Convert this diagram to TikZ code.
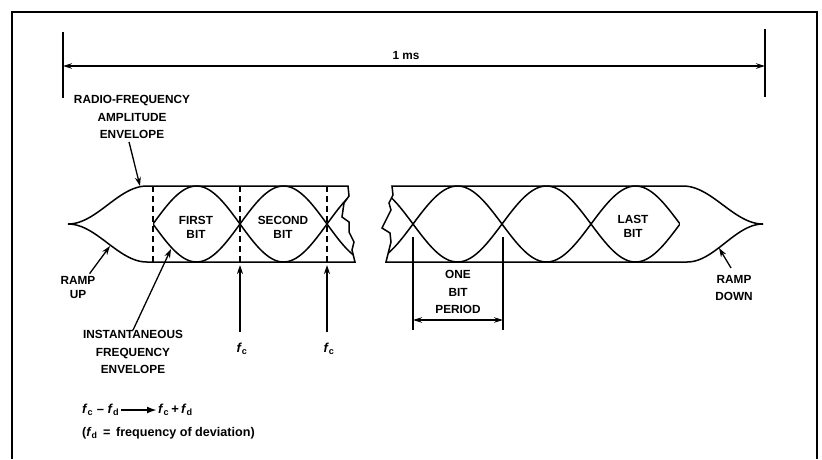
\documentclass[tikz,border=0pt]{standalone}
\usepackage{fontspec}
\setmainfont{Liberation Sans}
\usetikzlibrary{arrows.meta}
\begin{document}
\begin{tikzpicture}[x=1pt,y=-1pt,
  heavy/.style={line width=1.5pt},
  lbl/.style={font=\fontsize{11.8}{17.5}\selectfont\bfseries, align=center, inner sep=0pt},
  lbltight/.style={font=\fontsize{11.8}{14}\selectfont\bfseries, align=center, inner sep=0pt},
  fnt/.style={font=\fontsize{13}{15}\selectfont\bfseries, inner sep=0pt},
  tipend/.style={-{Stealth[length=9pt,width=6pt]}, line width=1.3pt},
  tipboth/.style={{Stealth[length=9pt,width=5.5pt]}-{Stealth[length=9pt,width=5.5pt]}, line width=1.5pt},
  dashln/.style={line width=1.3pt, dash pattern=on 6pt off 4pt},
  bigarrow/.style={-{Latex[length=10pt,width=7pt]}, line width=2.4pt}]
\useasboundingbox (0,0) rectangle (822,459);

% frame
\draw[line width=1.4pt] (12,459) -- (12,12) -- (817,12) -- (817,459);

% 1 ms dimension
\coordinate (dl) at (63,66);
\coordinate (dr) at (765,66);
\draw[heavy] (63,32) -- (63,98);
\draw[heavy] (765,29) -- (765,97);
\draw[tipboth] (dl) -- (dr);
\node[lbltight] (ms) at (406,55) {1 ms};

% ---------- left part of waveform ----------
% ramp up
\draw[heavy] plot[domain=68:147, samples=50, smooth] (\x, {224-19*(1-cos(2.2785*(\x-68)))});
\draw[heavy] plot[domain=68:147, samples=50, smooth] (\x, {224+19*(1-cos(2.2785*(\x-68)))});
% envelope lines and break
\draw[heavy] (147,186) -- (348,186) -- (349,196) -- (344,203) -- (342,217) -- (349,222)
  -- (349,232) -- (354,242) -- (352,250) -- (355,262) -- (147,262);
% sinusoids
\begin{scope}
  \clip (153,175) -- (348,175) -- (348,186) -- (349,196) -- (344,203) -- (342,217) -- (349,222)
  -- (349,232) -- (354,242) -- (352,250) -- (355,262) -- (355,270) -- (153,270) -- cycle;
  \draw[heavy] plot[domain=153:362, samples=80, smooth] (\x, {224-38*sin(2.06897*(\x-153))});
  \draw[heavy] plot[domain=153:362, samples=80, smooth] (\x, {224+38*sin(2.06897*(\x-153))});
\end{scope}
% dashed bit boundaries
\draw[dashln] (153,186) -- (153,262);
\draw[dashln] (240,186) -- (240,262);
\draw[dashln] (327,186) -- (327,262);

% ---------- right part of waveform ----------
\draw[heavy] (683,186) -- (392,186) -- (393,195) -- (389,203) -- (391,210) -- (382,228)
  -- (390,233) -- (391,242) -- (386,262) -- (687,262);
\begin{scope}
  \clip (392,175) -- (392,186) -- (393,195) -- (389,203) -- (391,210) -- (382,228)
  -- (390,233) -- (391,242) -- (386,262) -- (386,270) -- (680,270) -- (680,175) -- cycle;
  \draw[heavy] plot[domain=375:680, samples=110, smooth] (\x, {224-38*sin(2.02247*(\x-413))});
  \draw[heavy] plot[domain=375:680, samples=110, smooth] (\x, {224+38*sin(2.02247*(\x-413))});
\end{scope}
% ramp down
\draw[heavy] plot[domain=683:763, samples=50, smooth] (\x, {186+19*(1-cos(2.25*(\x-683)))});
\draw[heavy] plot[domain=687:763, samples=50, smooth] (\x, {262-19*(1-cos(2.36842*(\x-687)))});

% ---------- labels ----------
\node[lbl] (rf) at (132,117) {RADIO-FREQUENCY\\AMPLITUDE\\ENVELOPE};
\coordinate (rfpt) at (140,186);
\draw[tipend] ([xshift=-3pt,yshift=-3pt]rf.south) -- (rfpt);

\node[lbltight] (first) at (196,227) {FIRST\\BIT};
\node[lbltight] (second) at (283,227) {SECOND\\BIT};
\node[lbltight] (last) at (633,226) {LAST\\BIT};

\node[lbltight] (rampup) at (78,287) {RAMP\\UP};
\coordinate (rupt) at (110,246);
\draw[tipend] ([xshift=-6pt,yshift=2pt]rampup.north east) -- (rupt);

\node[lbl] (inst) at (133,352) {INSTANTANEOUS\\FREQUENCY\\ENVELOPE};
\coordinate (inpt) at (171,249);
\draw[tipend] (inst.north) -- (inpt);

% f_c markers
\node[fnt] (fc1) at (242,349) {\textit{f}\textsubscript{c}};
\node[fnt] (fc2) at (329,349) {\textit{f}\textsubscript{c}};
\coordinate (fcpt1) at (240,265);
\coordinate (fcpt2) at (327,265);
\draw[tipend] (240,332) -- (fcpt1);
\draw[tipend] (327,332) -- (fcpt2);

% one bit period
\coordinate (ob1) at (413,320);
\coordinate (ob2) at (503,320);
\draw[line width=1.2pt] (413,237) -- (413,330);
\draw[line width=1.2pt] (503,237) -- (503,330);
\draw[tipboth, line width=1.2pt] (ob1) -- (ob2);
\node[lbl] (onebit) at (458,292) {ONE\\BIT\\PERIOD};

% ramp down
\node[lbl] (rampdown) at (734,288) {RAMP\\DOWN};
\coordinate (rdpt) at (719,248);
\draw[tipend] ([xshift=-3pt,yshift=7pt]rampdown.north) -- (rdpt);

% formula
\node[fnt, anchor=west] (fm1) at (82,410) {\textit{f}\textsubscript{c}\;–\;\textit{f}\textsubscript{d}};
\node[fnt, anchor=west] (fm2) at (158,410) {\textit{f}\textsubscript{c}\,+\,\textit{f}\textsubscript{d}};
\draw[bigarrow] ([xshift=2pt]fm1.east) -- ([xshift=-1pt]fm2.west);
\node[fnt, anchor=west, font=\fontsize{12.6}{15}\selectfont\bfseries] (dev) at (82,433) {(\textit{f}\textsubscript{d} \,=\, frequency of deviation)};
\end{tikzpicture}
\end{document}
